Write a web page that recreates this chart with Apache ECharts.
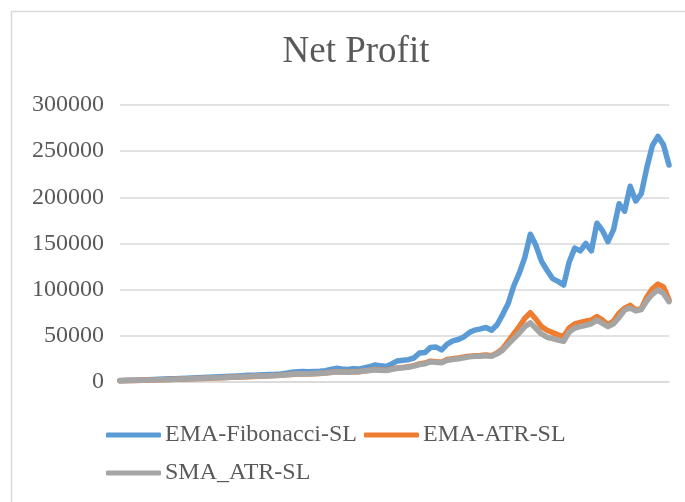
<!DOCTYPE html>
<html>
<head>
<meta charset="utf-8">
<script src="https://cdn.jsdelivr.net/npm/echarts@6/dist/echarts.min.js"></script>
<style>html,body{margin:0;padding:0;background:#fff;}#c{width:685px;height:502px;}</style>
</head>
<body>
<div id="c"></div>
<script>
const seriesNames = ['EMA-Fibonacci-SL', 'EMA-ATR-SL', 'SMA_ATR-SL'];
const yTicks = [0, 50000, 100000, 150000, 200000, 250000, 300000];
// values in thousands
const emaFib = [1.5,1.6,1.8,2.0,2.3,2.5,2.8,3.0,3.2,3.4,3.6,3.9,4.1,4.3,4.6,4.9,5.2,5.5,5.8,6.0,
6.3,6.6,6.9,7.2,7.4,7.6,7.9,8.2,8.4,8.8,9.6,10.5,11.2,11.4,11.0,11.3,11.6,12.2,13.5,14.8,
14.0,13.6,14.3,14.0,15.2,16.5,18.5,17.5,16.8,19.5,22.8,23.6,24.2,26.0,31.5,32.0,37.5,37.8,34.8,41.0,
44.5,46.0,48.8,53.5,56.2,57.5,59.0,56.0,62.0,73.0,85.0,104.0,118.0,135.0,160.0,148.0,131.0,121.0,112.0,109.0,
105.0,130.0,145.0,142.0,150.0,142.0,172.0,164.0,152.0,165.0,193.0,185.0,212.0,196.0,204.0,232.0,256.0,266.0,257.0,235.0];
const emaAtr = [1.4,1.5,1.6,1.7,1.9,2.0,2.1,2.3,2.5,2.7,2.9,3.1,3.3,3.5,3.7,3.9,4.1,4.4,4.6,4.9,
5.1,5.3,5.5,5.8,6.0,6.3,6.5,6.8,7.0,7.3,7.8,8.2,8.6,8.8,8.7,9.0,9.3,9.7,10.5,11.2,
11.0,10.7,11.0,11.2,12.0,12.8,13.5,13.0,12.6,14.0,15.2,15.8,16.5,17.8,19.5,20.5,22.5,22.0,21.5,24.5,
25.3,26.0,27.0,28.0,28.5,28.8,29.3,28.5,31.5,36.0,44.0,52.0,60.0,69.0,75.0,68.0,60.0,56.0,53.5,51.0,
49.5,58.5,63.0,64.5,66.0,67.0,71.0,67.0,62.0,66.0,74.5,80.0,83.0,78.0,79.5,92.0,101.0,106.0,103.0,89.0];
const smaAtr = [1.4,1.5,1.6,1.8,1.9,2.1,2.2,2.4,2.6,2.8,3.0,3.2,3.4,3.6,3.8,4.0,4.2,4.5,4.7,5.0,
5.2,5.4,5.6,5.9,6.1,6.4,6.6,6.9,7.1,7.4,7.9,8.3,8.7,8.9,8.8,9.1,9.4,9.8,10.4,11.0,
10.9,10.6,10.9,11.1,11.8,12.5,13.2,12.8,12.4,13.7,14.8,15.4,16.0,17.2,18.8,19.8,21.8,21.4,20.9,23.6,
24.4,25.2,26.2,27.2,27.8,28.0,28.5,27.8,30.5,34.5,41.0,47.0,53.0,60.0,64.0,58.0,52.0,48.5,47.0,45.5,
44.0,54.0,58.5,60.0,61.5,63.0,67.0,63.5,60.0,63.0,70.0,78.0,80.0,77.0,78.5,88.0,95.0,99.5,96.0,87.0];
const categories = emaFib.map((v, i) => String(i + 1));
const colors = ['#5B9BD5', '#ED7D31', '#A5A5A5'];
const toUnits = a => a.map(v => Math.round(v * 1000));

const chart = echarts.init(document.getElementById('c'), null, {renderer: 'canvas'});
const font = '"Liberation Serif", "Times New Roman", serif';
chart.setOption({
  animation: false,
  backgroundColor: '#fff',
  graphic: [{
    type: 'rect', left: 9, top: 9, silent: true,
    shape: {width: 700, height: 500},
    style: {fill: 'none', stroke: '#d9d9d9', lineWidth: 1.5}
  }],
  title: {
    text: 'Net Profit', left: 351, top: 29, textAlign: 'center',
    textStyle: {fontFamily: font, fontSize: 37, fontWeight: 'normal', color: '#595959'}
  },
  legend: [{
    data: [seriesNames[0], seriesNames[1]],
    left: 101, top: 418, itemWidth: 55, itemHeight: 5, itemGap: 7,
    icon: 'roundRect',
    textStyle: {fontFamily: font, fontSize: 24, color: '#595959', padding: [0,0,0,-1]}
  }, {
    data: [seriesNames[2]],
    left: 101, top: 456, itemWidth: 55, itemHeight: 5,
    icon: 'roundRect',
    textStyle: {fontFamily: font, fontSize: 24, color: '#595959', padding: [0,0,0,-1]}
  }],
  grid: {left: 120, right: 16, top: 105, bottom: 120, containLabel: false},
  xAxis: {
    type: 'category', data: categories, boundaryGap: false,
    axisLabel: {show: false}, axisTick: {show: false},
    axisLine: {show: true, lineStyle: {color: '#d9d9d9', width: 1.5}}
  },
  yAxis: {
    type: 'value', min: yTicks[0], max: yTicks[yTicks.length - 1], interval: 50000,
    axisLine: {show: false}, axisTick: {show: false},
    axisLabel: {fontFamily: font, fontSize: 24, color: '#595959', margin: 16,
      formatter: v => String(v)},
    splitLine: {lineStyle: {color: '#d9d9d9', width: 1.5}}
  },
  series: [
    {name: seriesNames[0], type: 'line', data: toUnits(emaFib), showSymbol: false, color: colors[0],
     lineStyle: {width: 5.5, color: colors[0], cap: 'round', join: 'round'}},
    {name: seriesNames[1], type: 'line', data: toUnits(emaAtr), showSymbol: false, color: colors[1],
     lineStyle: {width: 5.5, color: colors[1], cap: 'round', join: 'round'}},
    {name: seriesNames[2], type: 'line', data: toUnits(smaAtr), showSymbol: false, color: colors[2],
     lineStyle: {width: 5.5, color: colors[2], cap: 'round', join: 'round'}}
  ]
});
</script>
</body>
</html>
